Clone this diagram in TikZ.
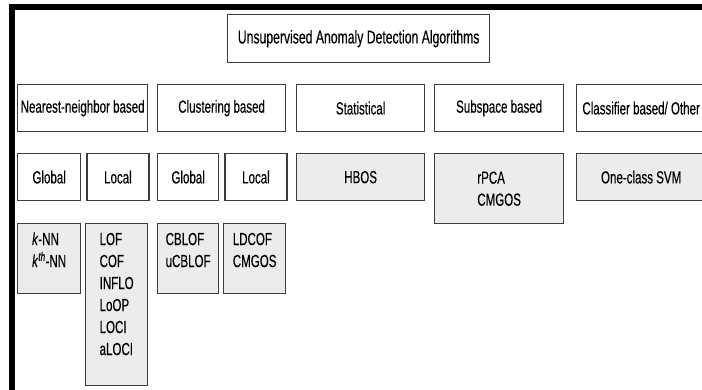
\documentclass[tikz,border=0pt]{standalone}
\usepackage{fontspec}
\setmainfont{Liberation Sans}[FakeStretch=0.66,FakeBold=0.25]
\usetikzlibrary{positioning}

\definecolor{boxline}{HTML}{3C3C3C}
\definecolor{boxfill}{HTML}{ECECEC}

% list of algorithms, set at the top of its box
\newcommand{\toplist}[2]{\vbox to #1pt{\vskip6pt\hbox{\begin{tabular}[t]{@{}l@{}}#2\end{tabular}}\vfil}}

\begin{document}
\begin{tikzpicture}[x=1pt,y=-1pt,
		catbox/.style={draw=boxline,line width=1.3pt,fill=white,inner sep=0pt,
			anchor=north west,minimum height=47pt,
			font=\fontsize{17.5}{22}\selectfont},
		algbox/.style={catbox,fill=boxfill},
		node distance=5pt]
		\useasboundingbox (0,0) rectangle (702,389);
		\clip (0,0) rectangle (702,389);
		\fill[white] (0,0) rectangle (702,389);

		% frame
		\draw[line width=6pt] (12,395) -- (12,7) -- (710,7);

		\node[catbox,minimum width=262pt,minimum height=48pt,
			font=\fontsize{18.5}{22}\selectfont] (uad) at (227,14)
			{Unsupervised Anomaly Detection Algorithms};

		% categories
		\node[catbox,minimum width=130pt] (nn) at (17,84) {Nearest-neighbor based};
		\node[catbox,minimum width=128pt] (clu) at (157,84) {Clustering based};
		\node[catbox,minimum width=128pt] (stat) at (296,84) {Statistical};
		\node[catbox,minimum width=129pt] (sub) at (434,84) {Subspace based};
		\node[catbox,minimum width=129pt] (cls) at (576,84) {Classifier based/ Other};

		% global / local
		\node[catbox,minimum width=63pt] (nnglob) at (17,153) {Global};
		\node[catbox,minimum width=62pt,right=5pt of nnglob.north east,anchor=north west] (nnloc) {Local};
		\node[catbox,minimum width=61pt] (cluglob) at (157,153) {Global};
		\node[catbox,minimum width=62pt,right=5pt of cluglob.north east,anchor=north west] (cluloc) {Local};
		\node[algbox,minimum width=128pt] (hbos) at (296,153) {HBOS};
		\node[algbox,minimum width=129pt,minimum height=70pt,align=left] (rpca) at (434,153) {rPCA\\CMGOS};
		\node[algbox,minimum width=129pt] (svm) at (576,153) {One-class SVM};

		% algorithms
		\node[algbox,minimum width=63pt] (knn) at (17,223)
			{\toplist{70}{\textit{k}-NN\\\textit{k}\textsuperscript{\textit{th}}-NN}};
		\node[algbox,minimum width=62pt] (lof) at (85,223)
			{\toplist{162}{LOF\\COF\\INFLO\\LoOP\\LOCI\\aLOCI}};
		\node[algbox,minimum width=61pt] (cblof) at (157,223)
			{\toplist{70}{CBLOF\\uCBLOF}};
		\node[algbox,minimum width=62pt] (ldcof) at (223,223)
			{\toplist{70}{LDCOF\\CMGOS}};
	\end{tikzpicture}
\end{document}
